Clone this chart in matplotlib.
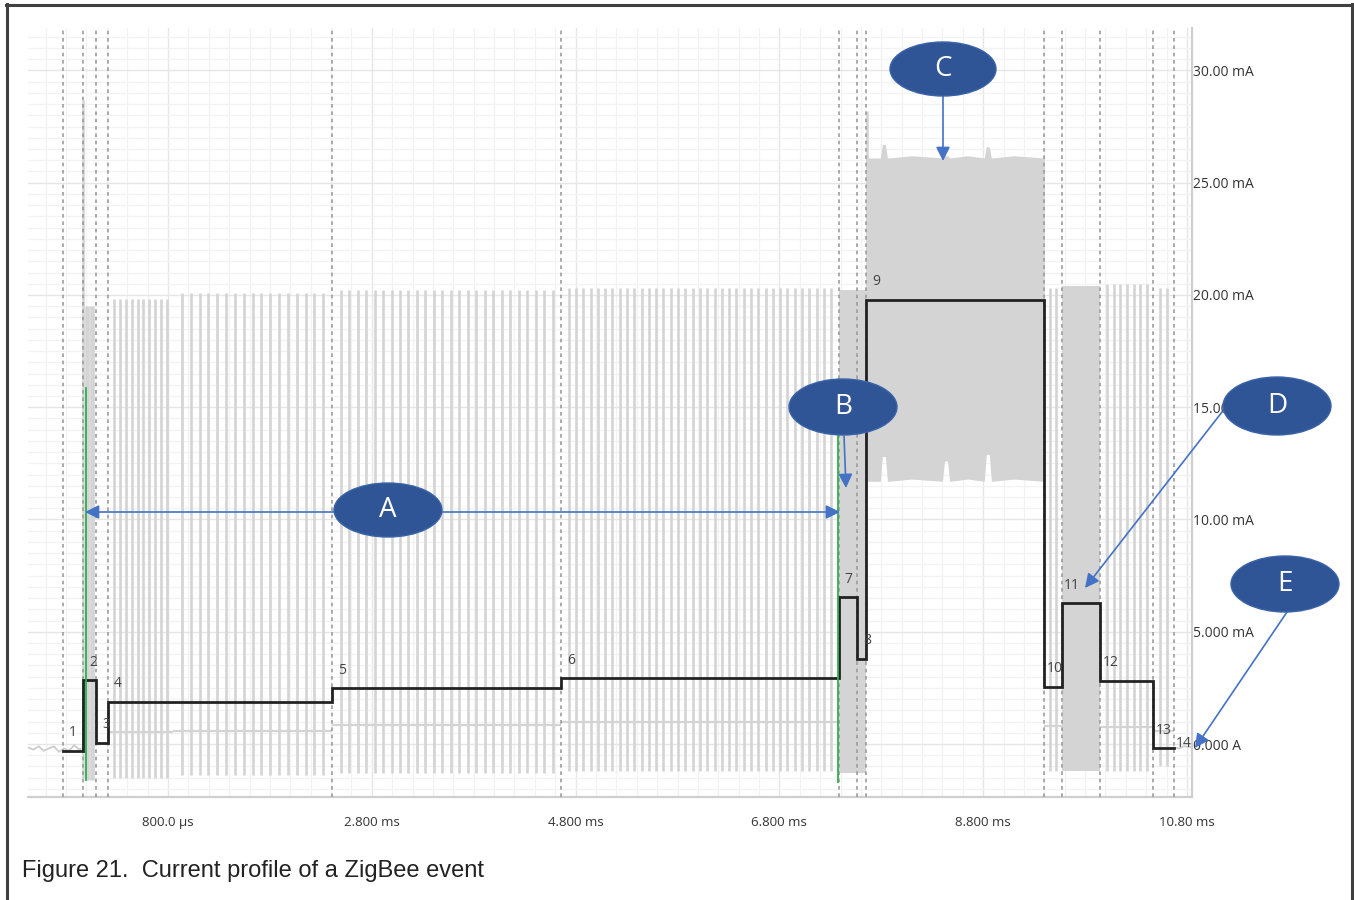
import numpy as np
import matplotlib
matplotlib.use("Agg")
import matplotlib.pyplot as plt
from matplotlib.patches import Ellipse, FancyArrowPatch
from matplotlib.lines import Line2D
from matplotlib.ticker import MultipleLocator

# ---------------- data (time in ms, current in mA) ----------------
# average-current step profile: boundaries of steps 1..13 and the start of step 14
step_bounds = [-0.23, -0.03, 0.09, 0.21, 2.41, 4.66, 7.38, 7.56, 7.65, 9.40, 9.57, 9.95, 10.47, 10.67]
step_levels = [-0.30, 2.85, 0.06, 1.88, 2.49, 2.94, 6.53, 3.79, 19.78, 2.55, 6.27, 2.82, -0.19]
step_names = [str(i) for i in range(1, 15)]

# raw trace: idle noise before / after the event
pre_t = [-0.574, -0.52, -0.47, -0.42, -0.37, -0.32, -0.27, -0.22, -0.17, -0.12, -0.07, -0.03]
pre_i = [-0.15, -0.25, -0.10, -0.30, -0.20, -0.10, -0.35, -0.20, -0.30, -0.05, -0.25, -0.15]
post_t = [10.67, 10.72, 10.77, 10.849]
post_i = [-0.15, -0.20, -0.10, -0.15]

# raw trace: spike-train segments
spike_t0 = [-0.03, 0.21, 0.85, 2.41, 4.66, 9.40, 9.95, 10.47]
spike_t1 = [0.09, 0.85, 2.41, 4.66, 7.38, 9.57, 10.47, 10.67]
spike_n = [4, 10, 17, 26, 37, 2, 7, 2]
spike_top = [19.5, 19.8, 20.1, 20.2, 20.3, 20.3, 20.5, 20.3]
spike_bot = [-1.6, -1.5, -1.4, -1.3, -1.2, -1.2, -1.2, -1.0]
spike_base = [0.50, 0.55, 0.60, 0.85, 1.00, 0.80, 0.75, 0.60]

# raw trace: dense (solid) blocks
block_t0 = [7.38, 9.57]
block_t1 = [7.65, 9.95]
block_top = [20.2, 20.4]
block_bot = [-1.3, -1.2]

# raw trace: TX block (C) envelope
c_t = [7.65, 7.79, 7.81, 7.84, 7.86, 8.10, 8.40, 8.42, 8.45, 8.47, 8.65, 8.81, 8.83, 8.86, 8.88, 9.10, 9.40]
c_upper = [26.1, 26.1, 26.7, 26.7, 26.1, 26.2, 26.1, 26.2, 26.2, 26.1, 26.2, 26.1, 26.6, 26.6, 26.1, 26.2, 26.1]
c_lower = [11.7, 11.7, 12.8, 12.8, 11.7, 11.8, 11.7, 12.6, 12.6, 11.7, 11.8, 11.7, 12.9, 12.9, 11.7, 11.8, 11.7]

# isolated tall peaks
peak_t = [-0.03, 7.66]
peak_lo = [-1.5, 12.0]
peak_hi = [28.7, 28.2]

x_ticks = [0.8, 2.8, 4.8, 6.8, 8.8, 10.8]
x_labels = ["800.0 µs", "2.800 ms", "4.800 ms", "6.800 ms", "8.800 ms", "10.80 ms"]
y_ticks = [0, 5, 10, 15, 20, 25, 30]
y_labels = ["0.000 A", "5.000 mA", "10.00 mA", "15.00 mA", "20.00 mA", "25.00 mA", "30.00 mA"]

callout_names = ["A", "B", "C", "D", "E"]

# ---------------- figure ----------------
W, H = 1354, 900
fig = plt.figure(figsize=(W / 100, H / 100), dpi=100)


def fx(px):
    return px / W


def fy(py):
    return 1 - py / H


ax = fig.add_axes([fx(28), fy(797), fx(1192) - fx(28), fy(28) - fy(797)])
ax.set_xlim(-0.574, 10.849)
ax.set_ylim(-2.36, 31.89)

GRAY = "#d4d4d4"

# idle noise
ax.plot(pre_t, pre_i, color="#cccccc", lw=1.3, zorder=2)
ax.plot(post_t, post_i, color="#cccccc", lw=1.3, zorder=2)

# spike trains
for t0, t1, n, top, bot, base in zip(spike_t0, spike_t1, spike_n, spike_top, spike_bot, spike_base):
    ts = np.linspace(t0, t1, n + 2)[1:-1]
    ax.hlines(base, t0, t1, color=GRAY, lw=1.6, zorder=2)
    ax.vlines(ts, bot, top, color=GRAY, lw=1.9, zorder=2)

# solid blocks
for t0, t1, top, bot in zip(block_t0, block_t1, block_top, block_bot):
    ax.fill_between([t0, t1], [bot, bot], [top, top], color=GRAY, lw=0, zorder=2)

# TX block
ax.fill_between(c_t, c_lower, c_upper, color=GRAY, lw=0, zorder=2)
ax.vlines(peak_t, peak_lo, peak_hi, color=GRAY, lw=1.9, zorder=2)

# dashed markers at step boundaries
ax.vlines(step_bounds, -2.36, 31.89, color="#9c9c9c", lw=1.2,
          linestyles=(0, (2.2, 2.2)), zorder=3)

# step profile
sx = step_bounds
sy = step_levels + [step_levels[-1]]
ax.step(sx, sy, where="post", color="#222222", lw=2.0, zorder=4, solid_joinstyle="miter")

# step labels
for i, name in enumerate(step_names):
    if i < len(step_levels):
        yv = step_levels[i] + 0.8
    else:
        yv = step_levels[-1] + 0.2
    ax.text(step_bounds[i] + 0.1, yv, name, ha="center", va="center",
            fontsize=10, color="#444444", family="Open Sans", zorder=5)

# axes styling
ax.set_xticks(x_ticks)
ax.set_xticklabels(x_labels, fontsize=9.5, family="Open Sans", color="#333333")
ax.set_yticks(y_ticks)
ax.set_yticklabels(y_labels, fontsize=10, family="Open Sans", color="#333333")
ax.yaxis.tick_right()
ax.xaxis.set_minor_locator(MultipleLocator(0.2))
ax.yaxis.set_minor_locator(MultipleLocator(0.5))
ax.grid(which="major", color="#e6e6e6", lw=1.0)
ax.grid(which="minor", color="#f2f2f2", lw=0.9)
ax.set_axisbelow(True)
ax.tick_params(which="both", length=0)
ax.tick_params(axis="x", pad=14)
ax.tick_params(axis="y", pad=1)
for s in ["top", "left"]:
    ax.spines[s].set_visible(False)
for s in ["bottom", "right"]:
    ax.spines[s].set_color("#cfcfcf")
    ax.spines[s].set_linewidth(1.6)

# ---------------- annotations (pixel positions) ----------------
BLUE = "#2F5597"
ARROW = "#4472C4"

# green markers
for x, y0, y1 in [(86, 388, 780), (838, 408, 782)]:
    fig.add_artist(Line2D([fx(x), fx(x)], [fy(y0), fy(y1)], color="#2eb04f", lw=1.3, zorder=6))

arrows = [((85, 512), (840, 512), "<|-|>"),
          ((844, 436), (846, 488), "-|>"),
          ((943, 96), (943, 161), "-|>"),
          ((1222, 412), (1085, 588), "-|>"),
          ((1287, 612), (1195, 748), "-|>")]
for (x0, y0), (x1, y1), st in arrows:
    fig.add_artist(FancyArrowPatch((fx(x0), fy(y0)), (fx(x1), fy(y1)),
                                   transform=fig.transFigure,
                                   arrowstyle=st + ",head_length=0.7,head_width=0.35",
                                   mutation_scale=12, color=ARROW, lw=1.2,
                                   shrinkA=0, shrinkB=0, zorder=7))

ellipses = [(388, 510, 108, 54), (843, 407, 108, 56), (943, 69, 106, 54),
            (1277, 406, 108, 58), (1285, 584, 108, 56)]
for name, (cx, cy, w, h) in zip(callout_names, ellipses):
    fig.add_artist(Ellipse((fx(cx), fy(cy)), w / W, h / H, transform=fig.transFigure,
                           facecolor=BLUE, edgecolor="#3a63a8", lw=1.0, zorder=8))
    fig.text(fx(cx), fy(cy), name, ha="center", va="center", color="white",
             fontsize=20, family="Open Sans", zorder=9)

# outer frame
fc = "#404040"
fig.add_artist(Line2D([fx(7), fx(7)], [fy(4), fy(900)], color=fc, lw=2.2))
fig.add_artist(Line2D([fx(6), fx(1352)], [fy(5), fy(5)], color=fc, lw=2.2))
fig.add_artist(Line2D([fx(1351.5), fx(1351.5)], [fy(4), fy(900)], color=fc, lw=2.2))

fig.text(fx(22), fy(871), "Figure 21.  Current profile of a ZigBee event",
         fontsize=17, family="Liberation Sans", color="#222222", va="center", ha="left")

fig.savefig("out.png", dpi=100)
